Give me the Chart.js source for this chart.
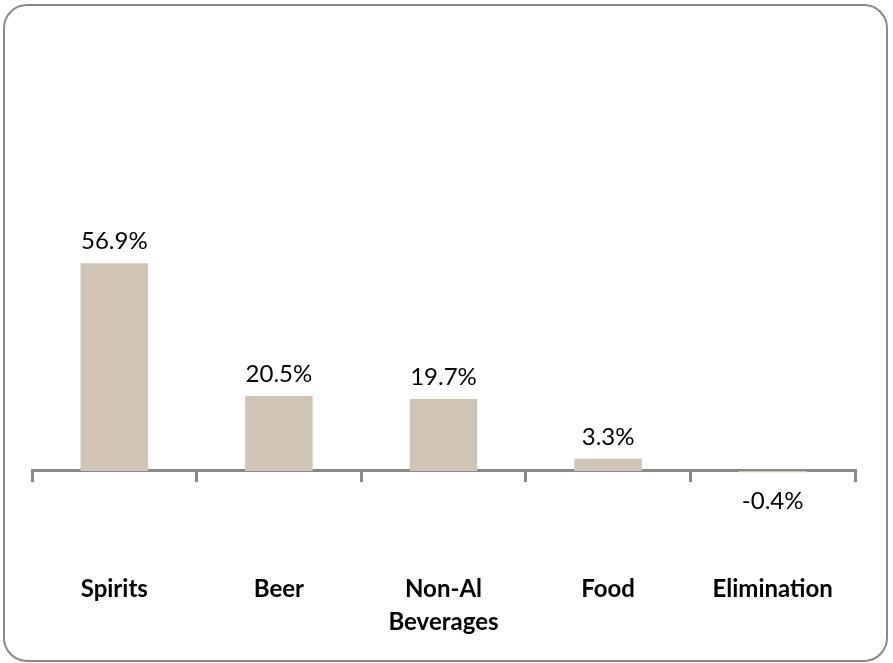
<!DOCTYPE html>
<html>
<head>
<meta charset="utf-8">
<script src="https://cdn.jsdelivr.net/npm/chart.js@4.4.1/dist/chart.umd.min.js"></script>
<style>
  html, body { margin: 0; padding: 0; background: #fff; }
  #wrap { position: relative; width: 893px; height: 663px; }
  #frame { position: absolute; left: 3px; top: 4px; width: 881px; height: 654px; border: 2px solid #898989; border-radius: 24px; pointer-events: none; }
  canvas { position: absolute; left: 0; top: 0; }
</style>
</head>
<body>
<div id="wrap">
  <canvas id="c" width="893" height="663"></canvas>
  <div id="frame"></div>
</div>
<script>
const categories = ["Spirits", "Beer", ["Non-Al", "Beverages"], "Food", "Elimination"];
const shares = [56.9, 20.5, 19.7, 3.3, -0.4];

const labelPlugin = {
  id: 'valueLabels',
  afterDatasetsDraw(chart) {
    const ctx = chart.ctx;
    const meta = chart.getDatasetMeta(0);
    ctx.save();
    ctx.font = '24px Lato';
    ctx.fillStyle = '#000';
    ctx.textAlign = 'center';
    ctx.textBaseline = 'middle';
    meta.data.forEach((bar, i) => {
      const v = shares[i];
      const txt = v.toFixed(1) + '%';
      const y = v >= 0 ? bar.y - 22 : bar.y + 29;
      ctx.fillText(txt, bar.x, y);
    });
    ctx.restore();
  }
};

new Chart(document.getElementById('c'), {
  type: 'bar',
  data: {
    labels: categories,
    datasets: [{
      data: shares,
      backgroundColor: '#D0C4B5',
      borderWidth: 0,
      barPercentage: 0.41,
      categoryPercentage: 1.0
    }]
  },
  options: {
    responsive: false,
    animation: false,
    layout: { padding: { left: 32, right: 38, top: 0, bottom: 20 } },
    plugins: { legend: { display: false }, tooltip: { enabled: false } },
    scales: {
      x: {
        position: 'bottom',
        grid: { display: false, drawTicks: false },
        border: { display: false },
        ticks: { color: '#000', font: { family: 'Lato', size: 24, weight: 'bold', lineHeight: 1.375 }, padding: 4, maxRotation: 0, autoSkip: false }
      },
      xZero: {
        type: 'category',
        axis: 'x',
        labels: categories,
        position: { y: 0 },
        offset: true,
        grid: { display: true, drawOnChartArea: false, drawTicks: true, tickLength: 10, color: '#898989', lineWidth: 3, offset: true },
        border: { display: true, color: '#898989', width: 3 },
        ticks: { display: false }
      },
      y: {
        display: false,
        min: -26.9,
        max: 129.1
      }
    }
  },
  plugins: [labelPlugin]
});
</script>
</body>
</html>
